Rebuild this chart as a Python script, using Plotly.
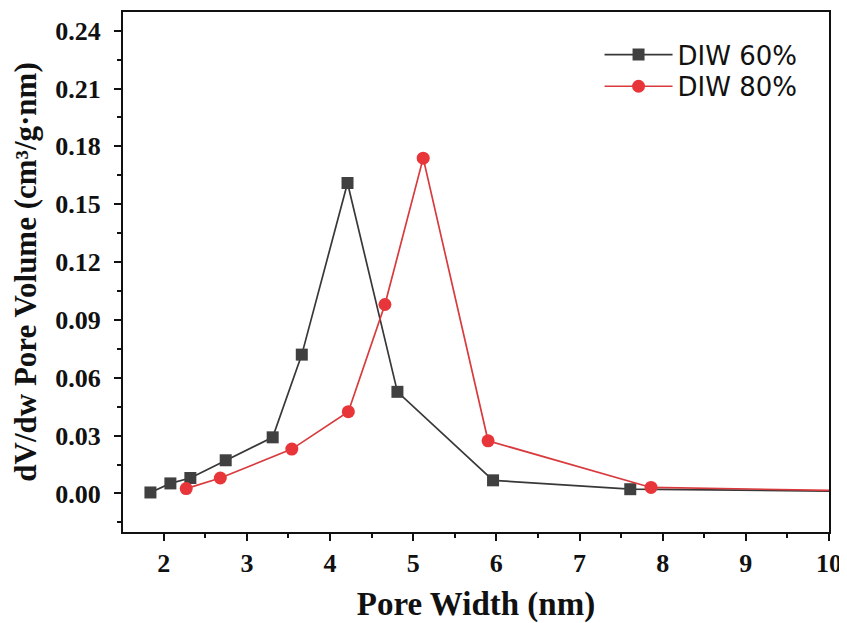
import plotly.graph_objects as go

x60 = [1.84, 2.08, 2.32, 2.745, 3.31, 3.66, 4.21, 4.81, 5.96, 7.61, 10.6]
y60 = [0.0005, 0.0052, 0.008, 0.0172, 0.0291, 0.072, 0.161, 0.0527, 0.0068, 0.0022, 0.0010]
x80 = [2.27, 2.68, 3.54, 4.22, 4.66, 5.12, 5.90, 7.86, 10.6]
y80 = [0.0025, 0.008, 0.023, 0.0424, 0.098, 0.1739, 0.0273, 0.0031, 0.0012]
names = ["DIW 60%", "DIW 80%"]

fig = go.Figure()
fig.add_trace(go.Scatter(x=x60, y=y60, name=names[0], mode="lines+markers",
                         line=dict(color="#383838", width=1.7), legend="legend",
                         marker=dict(symbol="square", size=12, color="#404040")))
fig.add_trace(go.Scatter(x=x80, y=y80, name=names[1], mode="lines+markers",
                         line=dict(color="#d83a3d", width=1.7), legend="legend2",
                         marker=dict(symbol="circle", size=13, color="#e8353a")))

serif = "Liberation Serif, Times New Roman, serif"
tickfont = dict(family=serif, size=26, color="#111")
legfont = dict(family="DejaVu Sans, Liberation Sans, Arial, sans-serif", size=26, color="#111")
fig.update_layout(
    width=839, height=615,
    margin=dict(l=115, r=18, t=4, b=91),
    paper_bgcolor="white", plot_bgcolor="white",
    showlegend=True,
    legend=dict(x=0.675, y=0.918, xanchor="left", yanchor="middle",
                font=legfont, bgcolor="rgba(0,0,0,0)", itemwidth=68),
    legend2=dict(x=0.675, y=0.857, xanchor="left", yanchor="middle",
                 font=legfont, bgcolor="rgba(0,0,0,0)", itemwidth=68),
    xaxis=dict(range=[1.51, 10], tick0=2, dtick=1, showgrid=False, zeroline=False,
               showline=True, linewidth=2, linecolor="#111", mirror=True,
               ticks="outside", ticklen=7, tickwidth=2, tickcolor="#111",
               minor=dict(ticks="outside", dtick=0.5, tick0=2, ticklen=4, tickwidth=2, tickcolor="#111"),
               tickfont=tickfont, automargin=False,
               title=dict(text="<b>Pore Width (nm)</b>", standoff=20,
                          font=dict(family=serif, size=33, color="#111"))),
    yaxis=dict(range=[-0.02, 0.2497], tick0=0, dtick=0.03, tickformat=".2f", showgrid=False, zeroline=False,
               showline=True, linewidth=2, linecolor="#111", mirror=True,
               ticks="outside", ticklen=7, tickwidth=2, tickcolor="#111",
               minor=dict(ticks="outside", dtick=0.015, tick0=0, ticklen=4, tickwidth=2, tickcolor="#111"),
               tickfont=tickfont, automargin=False, ticklabelstandoff=8,
               title=dict(text="<b>dV/dw Pore Volume (cm³/g·nm)</b>", standoff=16,
                          font=dict(family=serif, size=31, color="#111"))),
)
fig.update_xaxes(tickprefix="<b>", ticksuffix="</b>")
fig.update_yaxes(tickprefix="<b>", ticksuffix="</b>")
fig.write_html("out.html")
